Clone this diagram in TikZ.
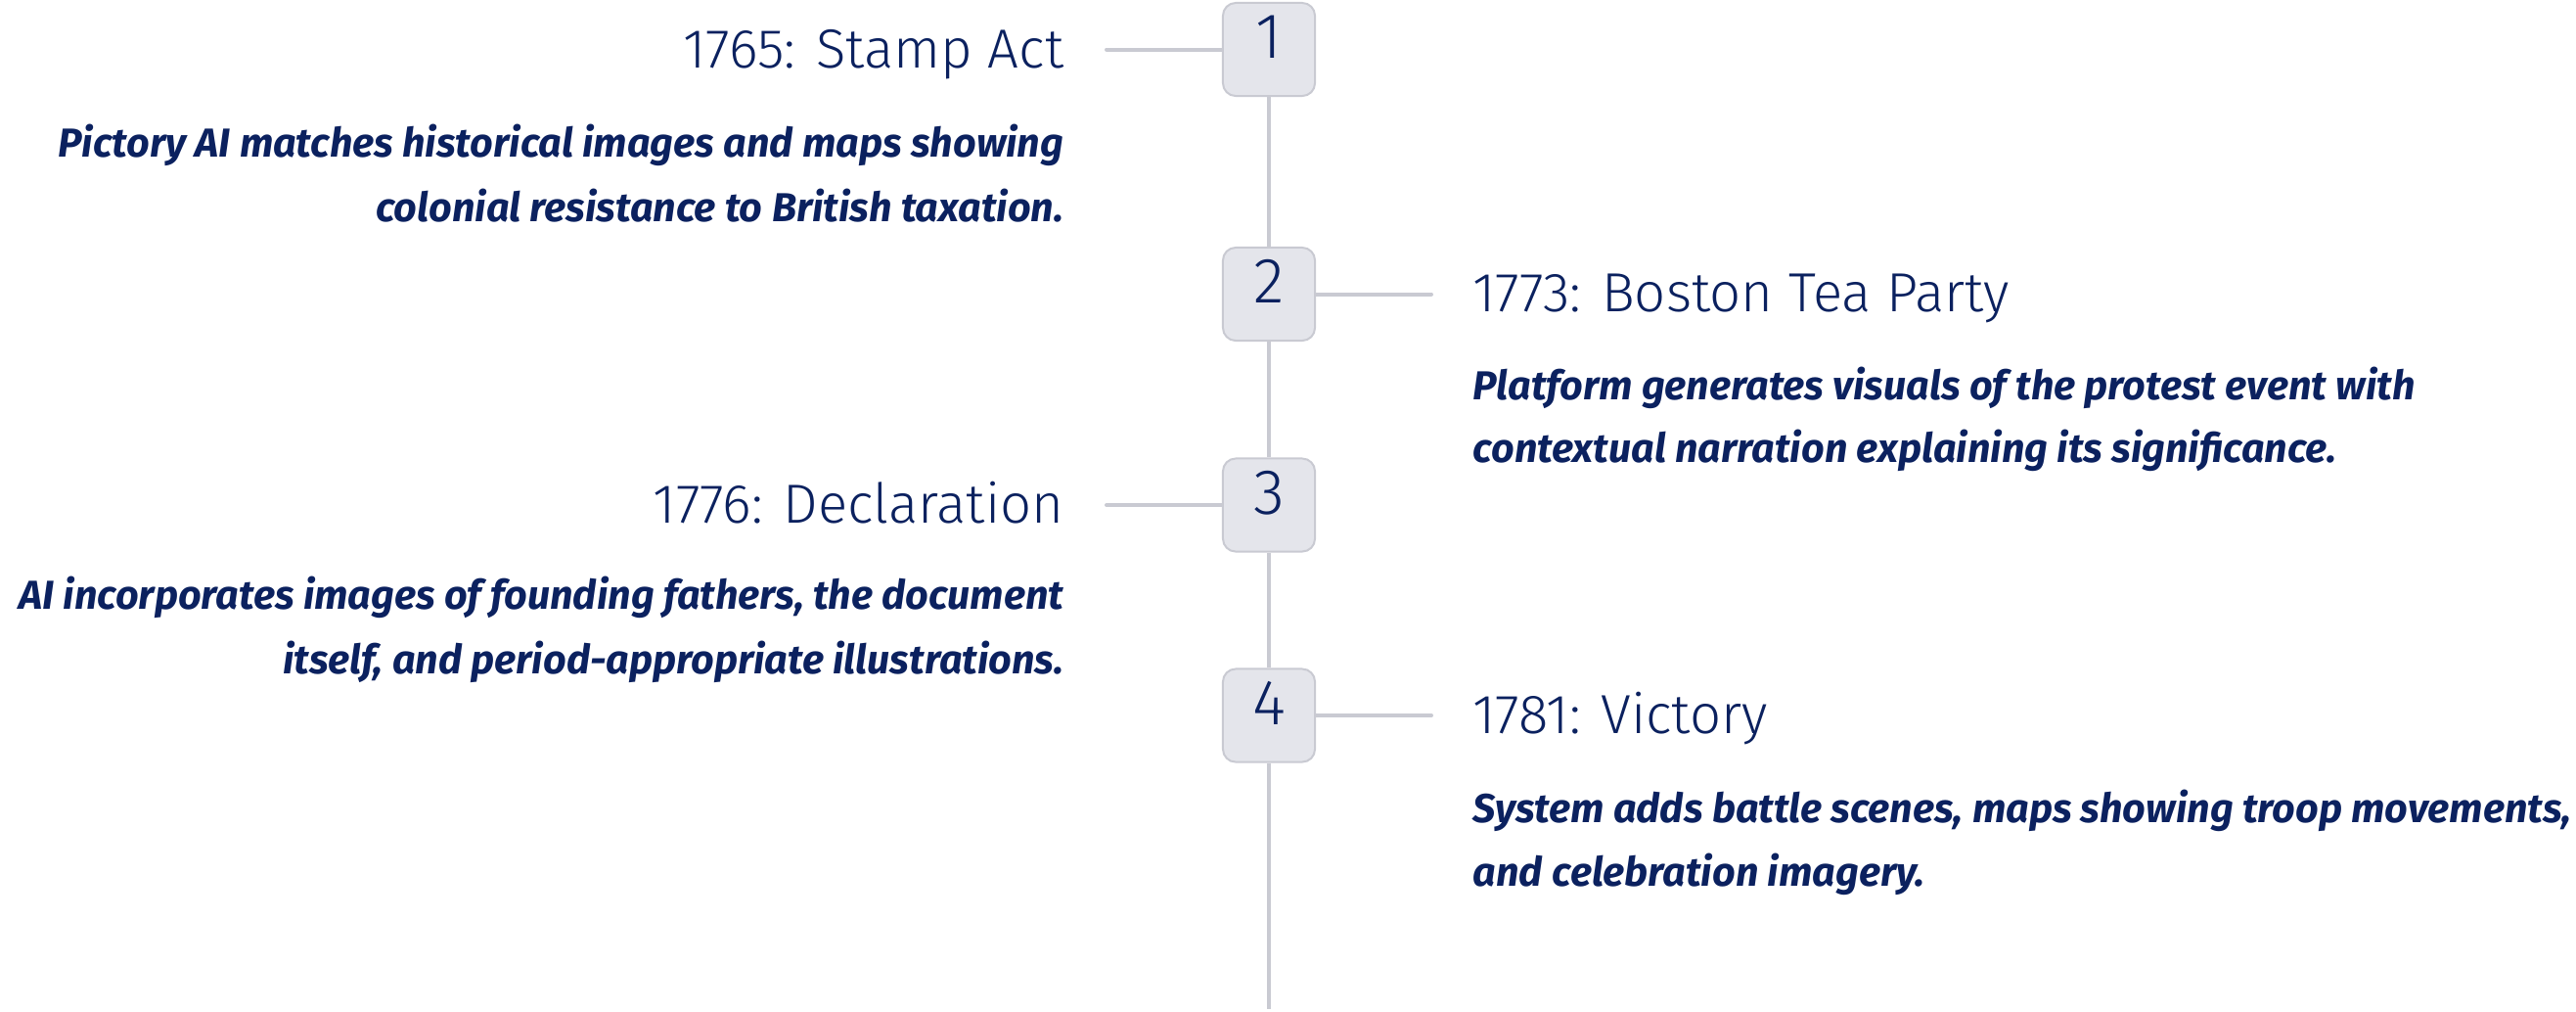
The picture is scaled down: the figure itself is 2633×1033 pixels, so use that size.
\documentclass[tikz,border=0pt]{standalone}
\usepackage{fontspec}
\usepackage{tikz}
\setmainfont{Fira Sans}
\newfontfamily\lightfont{Fira Sans Light}

\definecolor{inkblue}{HTML}{0B215F}
\definecolor{railgray}{HTML}{C9CAD2}
\definecolor{boxfill}{HTML}{E4E5EB}

\tikzset{
	stepbox/.style={draw=railgray, fill=boxfill, line width=0.02cm, rounded corners=0.13cm,
		minimum width=0.94cm, minimum height=0.95cm, inner sep=0pt,
		text height=0.32cm, text depth=0.14cm, text=inkblue,
		font=\lightfont\fontsize{18.6}{20}\selectfont},
	rail/.style={draw=railgray, line width=0.04cm},
	link/.style={draw=railgray, line width=0.04cm, line cap=round},
	eventtitle/.style={inner sep=0pt, text=inkblue, font=\lightfont\fontsize{16}{18}\selectfont},
	eventdesc/.style={inner sep=0pt, text=inkblue, font=\bfseries\itshape\fontsize{11.75}{13}\selectfont}
}

\begin{document}
\begin{tikzpicture}[x=0.01cm,y=-0.01cm]
	\useasboundingbox (0,0) rectangle (2633,1033);

	% numbered steps on the rail
	\node[stepbox] (n1) at (1297,50.5) {1};
	\node[stepbox] (n2) at (1297,300.5) {2};
	\node[stepbox] (n3) at (1297,516) {3};
	\node[stepbox] (n4) at (1297,731) {4};
	\coordinate (railend) at (1297,1031);

	\draw[rail] (n1.south)--(n2.north);
	\draw[rail] (n2.south)--(n3.north);
	\draw[rail] (n3.south)--(n4.north);
	\draw[rail] (n4.south)--(railend);

	% left side: 1765
	\node[eventtitle,anchor=base east] (t1) at (1088,69) {1765: Stamp Act};
	\node[eventdesc,anchor=base east] (d1a) at (1088,160) {Pictory AI matches historical images and maps showing};
	\node[eventdesc,anchor=base east] (d1b) at (1088,226) {colonial resistance to British taxation.};
	\coordinate (c1) at (1131,50.5);
	\draw[link] (c1)--(n1.west);

	% right side: 1773
	\node[eventtitle,anchor=base west] (t2) at (1505,318) {1773: Boston Tea Party};
	\node[eventdesc,anchor=base west] (d2a) at (1505,408) {Platform generates visuals of the protest event with};
	\node[eventdesc,anchor=base west] (d2b) at (1505,472) {contextual narration explaining its significance.};
	\coordinate (c2) at (1463,300.5);
	\draw[link] (n2.east)--(c2);

	% left side: 1776
	\node[eventtitle,anchor=base east] (t3) at (1088,534) {1776: Declaration};
	\node[eventdesc,anchor=base east] (d3a) at (1088,622) {AI incorporates images of founding fathers, the document};
	\node[eventdesc,anchor=base east] (d3b) at (1088,688) {itself, and period-appropriate illustrations.};
	\coordinate (c3) at (1131,516);
	\draw[link] (c3)--(n3.west);

	% right side: 1781
	\node[eventtitle,anchor=base west] (t4) at (1505,749) {1781: Victory};
	\node[eventdesc,anchor=base west] (d4a) at (1505,840) {System adds battle scenes, maps showing troop movements,};
	\node[eventdesc,anchor=base west] (d4b) at (1505,905) {and celebration imagery.};
	\coordinate (c4) at (1463,731);
	\draw[link] (n4.east)--(c4);
\end{tikzpicture}
\end{document}
